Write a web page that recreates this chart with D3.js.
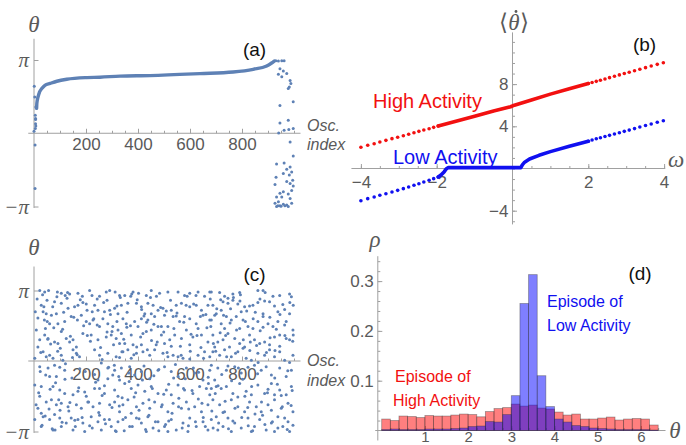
<!DOCTYPE html>
<html>
<head>
<meta charset="utf-8">
<script src="https://d3js.org/d3.v7.min.js"></script>
<style>
  body { margin: 0; background: #fff; }
  svg { display: block; font-family: "Liberation Sans", Arial, sans-serif; }
  .tick text { fill: #5a5a5a; font-size: 17px; }
  .tick line { stroke: #a0a0a0; }
  .ax { stroke: #a0a0a0; stroke-width: 1; }
  .greek { font-family: "Liberation Serif", serif; font-style: italic; fill: #5a5a5a; font-size: 23px; }
  .pan { font-size: 19px; fill: #111; }
  .osc { font-style: italic; fill: #5a5a5a; font-size: 16px; }
</style>
</head>
<body>
<svg width="686" height="445"></svg>
<script>
    // (a) locked state: sorted oscillators, [index, theta/pi]
    var curveA = [[10,0.34],[11,0.41],[15,0.49],[21,0.56],[30,0.61],[42,0.655],[62,0.68],[88,0.71],
        [126,0.737],[203,0.76],[254,0.765],[331,0.78],[446,0.787],[638,0.814],[766,0.836],[843,0.873],
        [895,0.918],[914,0.959],[924,0.986]];
    var scatterA = [[1,0.64],[3,0.495],[7,0.36],[5,0.245],[6,0.2],[6,0.187],[6,0.13],[7,0.10],[5,0.064],[0,0.027],
        [4,-0.16],[4,-0.755],
        [930,0.99],[940,0.985],[953,0.99],[962,0.99],[946,0.88],[959,0.85],[940,0.805],[972,0.815],[953,0.77],
        [985,0.72],[982,0.63],[988,0.68],[978,0.61],[946,0.38],[997,0.43],[978,0.177],[946,0.14],[962,0.04],
        [980,0.05],[997,0.064],[941,0.004],[985,-0.12],[997,-0.31],[962,-0.405],[933,-0.42],[985,-0.46],
        [972,-0.49],[959,-0.55],[991,-0.53],[931,-0.6],[982,-0.57],[995,-0.64],[972,-0.66],[927,-0.7],
        [985,-0.685],[997,-0.72],[991,-0.78],[959,-0.8],[946,-0.82],[978,-0.83],[933,-0.87],[953,-0.87],
        [985,-0.89],[940,-0.935],[927,-0.955],[959,-0.97],[972,-0.98],[946,-0.99],[991,-0.955],[933,-1.0],
        [978,-1.0],[938,-0.99],[950,-0.995],[965,-0.99]];

    // (c) incoherent state, [index, theta/pi]
    var scatterC = [
        [22,1.0],[41,0.98],[56,1.0],[90,0.98],[105,0.96],[120,0.93],[137,0.95],[169,0.96],[214,1.0],[223,0.93],
        [252,0.92],[278,0.98],[291,1.0],[312,0.98],[329,0.93],
        [28,0.79],[38,0.77],[5,0.70],[35,0.70],[79,0.84],[105,0.82],[131,0.75],[156,0.77],[169,0.79],[188,0.83],
        [201,0.81],[233,0.79],[246,0.72],[271,0.70],[291,0.72],[310,0.75],[323,0.67],[47,0.67],[67,0.65],[86,0.67],
        [9,0.44],[51,0.56],[60,0.53],[92,0.53],[118,0.56],[143,0.63],[182,0.65],[201,0.56],[214,0.53],[227,0.58],
        [265,0.60],[284,0.53],[303,0.49],[323,0.44],[252,0.49],[105,0.42],[44,0.46],
        [22,0.30],[41,0.37],[54,0.32],[79,0.27],[92,0.25],[124,0.32],[137,0.27],[150,0.30],[163,0.20],[188,0.39],
        [220,0.37],[246,0.30],[278,0.34],[297,0.37],[316,0.32],[329,0.25],[15,0.20],
        [35,0.13],[47,0.06],[60,0.08],[73,0.04],[105,0.08],[111,0.01],[150,0.16],[163,0.11],[175,0.06],[233,0.16],
        [252,0.08],[284,0.11],[316,0.06],[329,0.05],[3,0.04],
        [22,-0.08],[54,-0.10],[79,-0.06],[99,-0.09],[118,-0.13],[259,-0.03],[284,-0.10],[310,-0.13],[329,-0.27],
        [60,-0.22],[86,-0.22],[284,-0.25],[303,-0.20],
        [3,-0.34],[28,-0.36],[22,-0.50],[73,-0.36],[99,-0.41],[118,-0.46],[150,-0.48],[169,-0.43],[201,-0.50],
        [233,-0.39],[252,-0.39],[271,-0.46],[310,-0.41],[323,-0.50],[246,-0.27],
        [47,-0.58],[67,-0.55],[86,-0.62],[105,-0.60],[131,-0.65],[163,-0.62],[182,-0.67],[207,-0.58],[227,-0.65],
        [252,-0.60],[291,-0.62],[310,-0.58],[15,-0.67],[28,-0.74],[329,-0.72],
        [3,-0.83],[35,-0.79],[60,-0.83],[79,-0.76],[99,-0.81],[124,-0.88],[143,-0.81],[169,-0.83],[188,-0.88],
        [220,-0.79],[246,-0.86],[271,-0.83],[297,-0.93],[323,-0.86],[28,-0.93],[73,-0.98],[105,-0.93],[150,-0.98],
        [195,-1.0],[259,-0.98],[316,-1.0],
        [349,0.93],[372,0.92],[381,0.98],[402,0.96],[432,0.93],[451,1.0],[483,0.96],[515,0.98],[554,0.98],[579,0.93],
        [599,0.96],[631,0.98],[656,0.92],[676,0.98],
        [336,0.79],[361,0.82],[394,0.82],[413,0.77],[438,0.82],[458,0.79],[477,0.72],[496,0.75],[528,0.72],[547,0.79],
        [567,0.82],[599,0.77],[624,0.79],[644,0.72],[669,0.79],[451,0.67],[426,0.67],
        [342,0.60],[355,0.53],[387,0.56],[413,0.60],[438,0.58],[464,0.63],[502,0.65],[535,0.63],[560,0.56],[579,0.63],
        [599,0.60],[624,0.53],[650,0.65],[676,0.58],[400,0.49],[477,0.49],[515,0.49],[631,0.46],
        [336,0.39],[374,0.37],[419,0.39],[432,0.42],[451,0.44],[490,0.37],[522,0.30],[541,0.37],[567,0.32],[586,0.44],
        [611,0.34],[644,0.37],[669,0.27],[349,0.25],[381,0.23],[413,0.23],[470,0.23],[502,0.25],[599,0.23],
        [342,0.13],[361,0.16],[394,0.11],[419,0.13],[445,0.08],[464,0.16],[496,0.11],[515,0.06],[535,0.08],[554,0.06],
        [573,0.04],[599,0.03],[631,0.08],[656,0.13],[676,0.06],[374,0.04],
        [336,-0.10],[368,-0.08],[387,-0.20],[413,-0.15],[445,-0.25],[477,-0.13],[502,-0.08],[528,-0.15],[554,-0.22],
        [586,-0.10],[618,-0.17],[650,-0.27],[676,-0.13],
        [349,-0.32],[374,-0.39],[400,-0.34],[426,-0.43],[451,-0.36],[477,-0.46],[509,-0.41],[528,-0.48],[554,-0.34],
        [579,-0.41],[611,-0.46],[637,-0.36],[663,-0.39],[676,-0.48],
        [342,-0.62],[361,-0.55],[394,-0.65],[419,-0.60],[445,-0.67],[464,-0.58],[490,-0.65],[515,-0.72],[535,-0.60],
        [567,-0.67],[586,-0.58],[618,-0.65],[644,-0.72],[669,-0.62],[374,-0.74],
        [342,-0.83],[368,-0.93],[394,-0.81],[413,-0.88],[438,-0.79],[458,-0.95],[477,-0.86],[502,-0.93],[528,-0.83],
        [547,-0.98],[573,-0.88],[599,-0.81],[624,-0.93],[650,-0.86],[669,-0.98],[432,-1.0],[515,-1.0],[592,-1.0],
        [682,0.98],[714,0.97],[733,0.92],[765,0.95],[791,0.97],[861,1.0],[881,1.0],[945,0.93],[990,0.91],[746,0.89],
        [688,0.79],[701,0.67],[727,0.84],[746,0.82],[765,0.86],[784,0.81],[810,0.77],[829,0.78],[842,0.79],[861,0.83],
        [887,0.85],[906,0.84],[925,0.78],[938,0.70],[964,0.73],[983,0.67],[997,0.79],[797,0.70],[881,0.67],[720,0.72],
        [682,0.58],[695,0.65],[720,0.53],[740,0.63],[759,0.58],[778,0.63],[804,0.58],[823,0.49],[842,0.46],[861,0.56],
        [881,0.63],[900,0.53],[919,0.49],[938,0.56],[964,0.51],[996,0.44],[733,0.46],[791,0.46],
        [688,0.37],[707,0.27],[727,0.30],[746,0.39],[772,0.32],[791,0.25],[810,0.20],[829,0.37],[848,0.30],[868,0.25],
        [887,0.27],[906,0.23],[925,0.34],[945,0.37],[970,0.32],[983,0.30],[997,0.37],[695,0.20],[752,0.20],
        [688,0.13],[714,0.08],[733,0.16],[759,0.06],[784,0.13],[804,0.18],[816,0.04],[836,0.01],[861,0.11],[887,0.08],
        [906,0.16],[925,0.06],[945,0.13],[964,0.01],[983,-0.02],[996,0.08],
        [682,-0.06],[707,-0.10],[740,-0.13],[772,-0.08],[797,-0.17],[823,-0.09],[848,-0.06],[874,-0.13],[893,-0.08],
        [913,-0.20],[945,-0.10],[970,-0.22],[990,-0.13],[695,-0.27],
        [682,-0.39],[701,-0.36],[720,-0.39],[740,-0.36],[765,-0.46],[791,-0.32],[816,-0.43],[836,-0.48],[861,-0.34],
        [887,-0.46],[913,-0.32],[925,-0.48],[945,-0.41],[970,-0.48],[990,-0.36],
        [688,-0.55],[714,-0.62],[733,-0.72],[759,-0.55],[784,-0.65],[810,-0.72],[829,-0.58],[855,-0.65],[874,-0.72],
        [900,-0.62],[925,-0.55],[951,-0.67],[977,-0.60],[996,-0.72],
        [682,-0.83],[701,-0.79],[727,-0.93],[746,-0.81],[772,-0.88],[797,-0.95],[823,-0.81],[848,-0.93],[868,-0.83],
        [893,-0.98],[913,-0.88],[938,-0.79],[957,-0.93],[977,-0.86],[996,-0.91],[707,-0.98],[759,-1.0],[836,-1.0],
        [925,-1.0],[983,-1.0],
        [12,0.88],[18,-0.45],[26,0.12],[31,-0.91],[40,0.58],[45,-0.20],[50,0.86],[58,-0.68],[64,0.24],[70,-0.96],
        [76,0.47],[83,-0.31],[88,0.91],[95,-0.55],[101,0.18],[108,-0.87],[114,0.69],[121,-0.04],[127,0.89],[134,-0.71],
        [140,0.35],[146,-0.24],[153,0.62],[159,-0.93],[166,0.09],[172,-0.38],[178,0.87],[185,-0.80],[191,0.50],[197,-0.15],
        [204,0.72],[210,-0.58],[217,0.28],[224,-0.95],[230,0.60],[237,-0.30],[243,0.88],[249,-0.73],[256,0.19],[262,-0.49],
        [268,0.83],[275,-0.89],[281,0.41],[287,-0.09],[294,0.66],[300,-0.66],[306,0.23],[313,-0.99],[319,0.56],[326,-0.22],
        [332,0.90],[339,-0.52],[345,0.31],[352,-0.80],[358,0.69],[365,-0.17],[371,0.50],[378,-0.93],[384,0.09],[391,-0.45],
        [397,0.87],[404,-0.70],[410,0.34],[417,-0.27],[423,0.64],[429,-0.97],[436,0.16],[442,-0.55],[448,0.90],[455,-0.39],
        [461,0.52],[467,-0.86],[474,0.27],[480,-0.12],[487,0.76],[493,-0.62],[499,0.41],[506,-0.90],[512,0.12],[518,-0.33],
        [525,0.86],[531,-0.74],[538,0.46],[544,-0.05],[550,0.68],[557,-0.53],[563,0.21],[570,-0.95],[576,0.55],[582,-0.25],
        [589,0.92],[595,-0.68],[601,0.14],[608,-0.42],[614,0.81],[621,-0.86],[627,0.36],[633,-0.16],[640,0.63],[646,-0.60],
        [652,0.04],[659,-0.93],[665,0.47],[671,-0.32],[678,0.88],[684,-0.71],[690,0.25],[697,-0.46],[703,0.74],[710,-0.88],
        [716,0.40],[722,-0.19],[729,0.65],[735,-0.57],[741,0.06],[748,-0.96],[754,0.54],[760,-0.28],[767,0.90],[773,-0.67],
        [779,0.44],[786,-0.10],[792,0.85],[799,-0.80],[805,0.30],[811,-0.50],[818,0.71],[824,-0.92],[830,0.15],[837,-0.36],
        [843,0.60],[850,-0.75],[856,0.22],[862,-0.02],[869,0.88],[875,-0.58],[881,0.48],[888,-0.90],[894,0.12],[900,-0.40],
        [907,0.62],[913,-0.70],[919,0.92],[926,-0.24],[932,0.45],[938,-0.95],[945,0.21],[951,-0.49],[957,0.80],[964,-0.81],
        [970,0.56],[976,-0.14],[983,0.95],[989,-0.63],[995,0.28],
        [8,-0.62],[15,0.61],[24,-0.15],[33,0.94],[43,-0.78],[53,0.31],[62,-0.40],[72,0.77],[81,-0.98],[91,0.14],
        [100,-0.70],[110,0.45],[119,-0.26],[129,0.97],[138,-0.59],[148,0.05],[157,-0.84],[167,0.58],[176,-0.11],[186,0.92],
        [195,-0.44],[205,0.36],[214,-0.92],[224,0.70],[233,-0.19],[243,0.51],[252,-0.77],[262,0.02],[271,-0.35],[281,0.86],
        [290,-0.83],[300,0.42],[309,-0.06],[319,0.78],[328,-0.64],[338,0.13],[347,-0.99],[357,0.48],[366,-0.29],[376,0.95],
        [385,-0.51],[395,0.20],[404,-0.82],[414,0.73],[423,-0.07],[433,0.55],[442,-0.77],[452,0.29],[461,-0.21],[471,0.92],
        [480,-0.99],[490,0.49],[499,-0.47],[509,0.71],[518,-0.85],[528,0.21],[537,-0.24],[547,0.64],[556,-0.65],[566,0.08],
        [575,-0.39],[585,0.79],[594,-0.92],[604,0.38],[613,-0.10],[623,0.93],[632,-0.54],[642,0.19],[651,-0.80],[661,0.66],
        [670,-0.23],[680,0.49],[689,-0.95],[699,0.14],[708,-0.35],[718,0.87],[727,-0.73],[737,0.36],[746,-0.07],[756,0.74],
        [765,-0.85],[775,0.11],[784,-0.51],[794,0.94],[803,-0.26],[813,0.56],[822,-0.66],[832,0.27],[841,-0.99],[851,0.69],
        [860,-0.18],[870,0.43],[879,-0.77],[889,0.97],[898,-0.45],[908,0.33],[917,-0.86],[927,0.15],[936,-0.33],[946,0.66],
        [955,-0.65],[965,0.36],[974,-0.97],[984,0.83],[993,-0.42]];

    // (b) mean frequency vs natural frequency, [omega, <thetadot>]
    var highDots = [[-4.00,2.01],[-3.82,2.2],[-3.65,2.35],[-3.50,2.51],[-3.34,2.67],[-3.18,2.83],[-3.03,2.96],
        [-2.88,3.11],[-2.74,3.24],[-2.60,3.39],[-2.47,3.52],[-2.34,3.65],[-2.20,3.77],[-2.08,3.9],[-1.96,4.03],
        [2.00,8.05],[2.10,8.15],[2.21,8.26],[2.32,8.37],[2.44,8.49],[2.56,8.61],[2.69,8.74],[2.82,8.87],[2.95,9.0],
        [3.08,9.13],[3.22,9.27],[3.36,9.41],[3.51,9.56],[3.66,9.71],[3.82,9.87],[3.98,10.03]];
    var highLine = [[-1.96,4.03],[-1.0,4.95],[-0.5,5.45],[-0.05,5.85],[0.05,6.0],[0.5,6.5],[1.0,7.05],[1.5,7.55],[2.0,8.05]];
    var lowDots = [[-4.00,-3.05],[-3.82,-2.86],[-3.65,-2.70],[-3.50,-2.54],[-3.34,-2.39],[-3.18,-2.23],[-3.03,-2.07],
        [-2.88,-1.91],[-2.74,-1.75],[-2.60,-1.59],[-2.47,-1.44],[-2.34,-1.28],[-2.20,-1.12],[-2.08,-0.96],[-1.96,-0.8],
        [2.00,2.58],[2.10,2.7],[2.21,2.82],[2.32,2.92],[2.44,3.03],[2.56,3.14],[2.69,3.27],[2.82,3.39],[2.95,3.52],
        [3.08,3.64],[3.22,3.78],[3.36,3.93],[3.51,4.07],[3.66,4.22],[3.82,4.38],[3.98,4.53]];
    var lowLine = [[-1.96,-0.8],[-1.88,-0.6],[-1.80,-0.3],[-1.75,-0.05],[-1.70,0.08],[0.22,0.08],[0.26,0.35],
        [0.32,0.6],[0.45,0.9],[0.7,1.25],[1.0,1.6],[1.5,2.1],[2.0,2.58]];

    // (d) phase densities, bins of 0.2 in theta
    var binEdges = [0,0.2,0.4,0.6,0.8,1.0,1.2,1.4,1.6,1.8,2.0,2.2,2.4,2.6,2.8,3.0,3.2,3.4,3.6,3.8,4.0,
        4.2,4.4,4.6,4.8,5.0,5.2,5.4,5.6,5.8,6.0,6.2,6.4];
    var rhoHigh = [0.023,0.020,0.029,0.028,0.026,0.030,0.029,0.029,0.031,0.033,0.032,0.0275,0.038,0.044,0.046,0.053,
        0.049,0.051,0.045,0.043,0.037,0.031,0.033,0.023,0.023,0.025,0.027,0.021,0.023,0.024,0.023,0.011];
    var rhoLow = [0.002,0.003,0.002,0.002,0.002,0.003,0.003,0.003,0.004,0.005,0.008,0.009,0.018,0.017,0.032,0.070,
        0.255,0.313,0.110,0.048,0.023,0.017,0.010,0.008,0.005,0.004,0.003,0.002,0.002,0.002,0.002,0.001];

    var dotColor = "#5e81b5";
    var svg = d3.select("svg");

    var xA = d3.scaleLinear().domain([0, 1000]).range([34, 294]);
    var yA = d3.scaleLinear().domain([-1, 1]).range([206.5, 60]);
    var yC = d3.scaleLinear().domain([-1, 1]).range([431.5, 290.5]);
    var xB = d3.scaleLinear().domain([-4, 4]).range([360.9, 664.1]);
    var yB = d3.scaleLinear().domain([0, 8]).range([168.5, 84.1]);
    var xD = d3.scaleLinear().domain([0, 6]).range([381.7, 640.9]);
    var yD = d3.scaleLinear().domain([0, 0.3]).range([430.5, 281.1]);

    function piFormat(d) {
        return d > 0 ? "\u03c0" : "\u2212\u03c0";
    }

    function frame(g, x, y, o) {
        g.append("line").attr("class", "ax")
            .attr("x1", x(o.xFrom)).attr("x2", x(o.xTo))
            .attr("y1", y(o.yCross)).attr("y2", y(o.yCross));
        g.append("line").attr("class", "ax")
            .attr("x1", x(o.xCross)).attr("x2", x(o.xCross))
            .attr("y1", y(o.yFrom)).attr("y2", y(o.yTo));
        var xg = g.append("g").attr("transform", "translate(0," + y(o.yCross) + ")");
        xg.append("g").call(d3.axisBottom(x).tickValues(o.xMinor).tickFormat("").tickSizeInner(-2.5).tickSizeOuter(0));
        var xa = xg.append("g").call(d3.axisBottom(x).tickValues(o.xTicks).tickFormat(o.xFmt)
            .tickSizeInner(-4.5).tickSizeOuter(0).tickPadding(o.xPad));
        if (o.xFont) xa.selectAll("text").style("font-size", o.xFont);
        var yg = g.append("g").attr("transform", "translate(" + x(o.xCross) + ",0)");
        yg.append("g").call(d3.axisLeft(y).tickValues(o.yMinor).tickFormat("").tickSizeInner(-2.5).tickSizeOuter(0));
        var ya = yg.append("g").call(d3.axisLeft(y).tickValues(o.yTicks).tickFormat(o.yFmt)
            .tickSizeInner(-4.5).tickSizeOuter(0).tickPadding(o.yPad));
        g.selectAll(".domain").remove();
        return ya;
    }

    function label(x, y, txt, cls, anchor, color) {
        var t = svg.append("text").attr("x", x).attr("y", y).attr("class", cls)
            .attr("text-anchor", anchor || "middle").text(txt);
        if (color) t.style("fill", color);
        return t;
    }

    var idxMinor = d3.range(50, 1001, 50);

    // ---- panel (a)
    var ga = svg.append("g");
    var yaA = frame(ga, xA, yA, {
        xFrom: -22, xTo: 1025, yCross: 0, xCross: 0, yFrom: -1.02, yTo: 1.29,
        xTicks: [200, 400, 600, 800], xMinor: idxMinor, xFmt: d3.format("d"), xPad: 5,
        yTicks: [-1, 1], yMinor: [], yFmt: piFormat, yPad: 5
    });
    yaA.selectAll("text").attr("class", "greek").style("font-size", "21px");
    ga.append("path")
        .datum(curveA)
        .attr("fill", "none").attr("stroke", dotColor).attr("stroke-width", 3.4)
        .attr("stroke-linecap", "round")
        .attr("d", d3.line().curve(d3.curveMonotoneX)
            .x(function(d) { return xA(d[0]); }).y(function(d) { return yA(d[1]); }));
    ga.selectAll("circle").data(scatterA).enter().append("circle")
        .attr("cx", function(d) { return xA(d[0]); })
        .attr("cy", function(d) { return yA(d[1]); })
        .attr("r", 1.5).attr("fill", dotColor);
    label(34, 32, "\u03b8", "greek");
    label(254.5, 56, "(a)", "pan");
    label(307, 131, "Osc.", "osc", "start");
    label(307, 150, "index", "osc", "start");

    // ---- panel (c)
    var gc = svg.append("g");
    var yaC = frame(gc, xA, yC, {
        xFrom: -22, xTo: 1025, yCross: 0, xCross: 0, yFrom: -1.02, yTo: 1.34,
        xTicks: [200, 400, 600, 800], xMinor: idxMinor, xFmt: d3.format("d"), xPad: 7,
        yTicks: [-1, 1], yMinor: [], yFmt: piFormat, yPad: 5
    });
    yaC.selectAll("text").attr("class", "greek").style("font-size", "21px");
    gc.selectAll("circle").data(scatterC).enter().append("circle")
        .attr("cx", function(d) { return xA(d[0]); })
        .attr("cy", function(d) { return yC(d[1]); })
        .attr("r", 1.5).attr("fill", dotColor);
    label(34, 255, "\u03b8", "greek");
    label(254.5, 281, "(c)", "pan");
    label(307, 366, "Osc.", "osc", "start");
    label(307, 386, "index", "osc", "start");

    // ---- panel (b)
    var gb = svg.append("g");
    frame(gb, xB, yB, {
        xFrom: -4.25, xTo: 4.03, yCross: 0, xCross: 0, yFrom: -5.3, yTo: 12.9,
        xTicks: [-4, -2, 2, 4], xMinor: d3.range(-4, 4.01, 0.5), xFmt: d3.format("d"), xPad: 7.5,
        yTicks: [-4, 4, 8], yMinor: d3.range(-5, 13, 1), yFmt: d3.format("d"), yPad: 4
    });
    var lineB = d3.line().x(function(d) { return xB(d[0]); }).y(function(d) { return yB(d[1]); });
    [[highLine, highDots, "#f21010"], [lowLine, lowDots, "#1010f0"]].forEach(function(s) {
        gb.append("path").datum(s[0])
            .attr("fill", "none").attr("stroke", s[2]).attr("stroke-width", 3.6)
            .attr("stroke-linecap", "round").attr("stroke-linejoin", "round")
            .attr("d", lineB);
        gb.append("g").selectAll("circle").data(s[1]).enter().append("circle")
            .attr("cx", function(d) { return xB(d[0]); })
            .attr("cy", function(d) { return yB(d[1]); })
            .attr("r", 1.8).attr("fill", s[2]);
    });
    var tb = label(514, 30, "", "greek");
    tb.append("tspan").style("font-style", "normal").text("\u27e8");
    tb.append("tspan").text("\u03b8");
    tb.append("tspan").style("font-style", "normal").text("\u27e9");
    svg.append("circle").attr("cx", 516).attr("cy", 11.5).attr("r", 1.4).attr("fill", "#5a5a5a");
    label(676, 167, "\u03c9", "greek");
    label(644.5, 51, "(b)", "pan");
    label(373, 108, "High Activity", "", "start", "#f21010").style("font-size", "20px");
    label(393, 164, "Low Activity", "", "start", "#1010f0").style("font-size", "20px");

    // ---- panel (d)
    var gd = svg.append("g");
    frame(gd, xD, yD, {
        xFrom: -0.15, xTo: 6.57, yCross: 0, xCross: -0.09, yFrom: -0.02, yTo: 0.35,
        xTicks: [1, 2, 3, 4, 5, 6], xMinor: d3.range(0.2, 6.5, 0.2), xFmt: d3.format("d"), xPad: 0.5,
        xFont: "15px",
        yTicks: [0.1, 0.2, 0.3], yMinor: d3.range(0.02, 0.35, 0.02), yFmt: d3.format(".1f"), yPad: 4
    });
    [[rhoHigh, "#ff0000"], [rhoLow, "#0000ff"]].forEach(function(s) {
        gd.append("g").selectAll("rect").data(s[0]).enter().append("rect")
            .attr("x", function(d, i) { return xD(binEdges[i]); })
            .attr("width", function(d, i) { return xD(binEdges[i + 1]) - xD(binEdges[i]); })
            .attr("y", function(d) { return yD(d); })
            .attr("height", function(d) { return yD(0) - yD(d); })
            .attr("fill", s[1]).attr("fill-opacity", 0.5)
            .attr("stroke", "#333").attr("stroke-opacity", 0.45).attr("stroke-width", 0.8);
    });
    label(375, 247, "\u03c1", "greek");
    label(675, 438, "\u03b8", "greek");
    label(640, 280, "(d)", "pan");
    label(547, 307, "Episode of", "", "start", "#1010f0").style("font-size", "16px");
    label(547, 331, "Low Activity", "", "start", "#1010f0").style("font-size", "16px");
    label(395, 382, "Episode of", "", "start", "#f21010").style("font-size", "16px");
    label(393, 406, "High Activity", "", "start", "#f21010").style("font-size", "16px");
</script>
</body>
</html>
